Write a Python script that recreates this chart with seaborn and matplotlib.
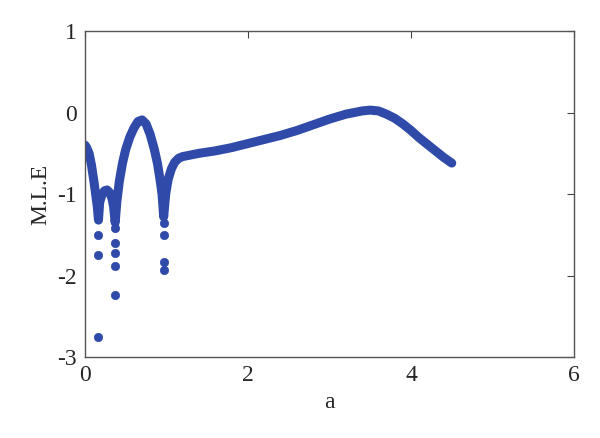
import matplotlib
matplotlib.use("Agg")
import matplotlib.pyplot as plt
import seaborn as sns

# main MLE curve
a_vals = [0.00, 0.02, 0.05, 0.08, 0.11, 0.13, 0.15, 0.165, 0.18, 0.21, 0.24, 0.27,
          0.30, 0.33, 0.35, 0.37, 0.39, 0.42, 0.46, 0.50, 0.55, 0.60, 0.65, 0.70,
          0.75, 0.80, 0.85, 0.89, 0.92, 0.945, 0.965, 0.99, 1.02, 1.06, 1.10, 1.15,
          1.20, 1.40, 1.60, 1.80, 2.00, 2.20, 2.40, 2.60, 2.80, 3.00, 3.20, 3.40,
          3.50, 3.60, 3.70, 3.80, 3.90, 4.00, 4.10, 4.20, 4.30, 4.40, 4.50]
mle_vals = [-0.40, -0.43, -0.50, -0.65, -0.85, -1.00, -1.15, -1.32, -1.10, -1.00, -0.96, -0.95,
            -0.98, -1.05, -1.15, -1.35, -1.10, -0.85, -0.62, -0.45, -0.30, -0.19, -0.11, -0.09,
            -0.14, -0.27, -0.45, -0.63, -0.82, -1.00, -1.28, -1.00, -0.82, -0.69, -0.61, -0.56,
            -0.54, -0.50, -0.47, -0.43, -0.38, -0.33, -0.28, -0.22, -0.15, -0.08, -0.02, 0.02,
            0.03, 0.02, -0.02, -0.07, -0.14, -0.22, -0.31, -0.39, -0.47, -0.55, -0.62]

# isolated points below the dips
a_out = [0.16, 0.16, 0.165, 0.37, 0.37, 0.37, 0.37, 0.37, 0.965, 0.965, 0.965, 0.965]
mle_out = [-1.50, -1.75, -2.75, -1.42, -1.60, -1.72, -1.88, -2.24, -1.35, -1.50, -1.83, -1.93]

blue = "#2f4aa8"

sns.set_style("white")
plt.rcParams["font.family"] = ["Liberation Serif", "DejaVu Serif"]
plt.rcParams["axes.unicode_minus"] = False

fig = plt.figure(figsize=(6, 4.38), dpi=100)
ax = fig.add_axes([0.1417, 0.185, 0.815, 0.744])

sns.lineplot(x=a_vals, y=mle_vals, sort=False, color=blue, lw=6.5,
             solid_capstyle="round", solid_joinstyle="round", ax=ax)
sns.scatterplot(x=a_out, y=mle_out, color=blue, s=36, edgecolor=blue, linewidth=0.5, ax=ax)

ax.set_xlim(0, 6)
ax.set_ylim(-3, 1)
ax.set_xticks([0, 2, 4, 6])
ax.set_yticks([-3, -2, -1, 0, 1])
ax.set_xlabel("a", fontsize=17)
ax.set_ylabel("M.L.E", fontsize=17)
ax.tick_params(direction="in", length=5, width=0.8, top=True, right=True,
               labelsize=17, color="#444444", pad=6)
for s in ax.spines.values():
    s.set_color("#555555")
    s.set_linewidth(1.0)

fig.savefig("out.png", dpi=100)
